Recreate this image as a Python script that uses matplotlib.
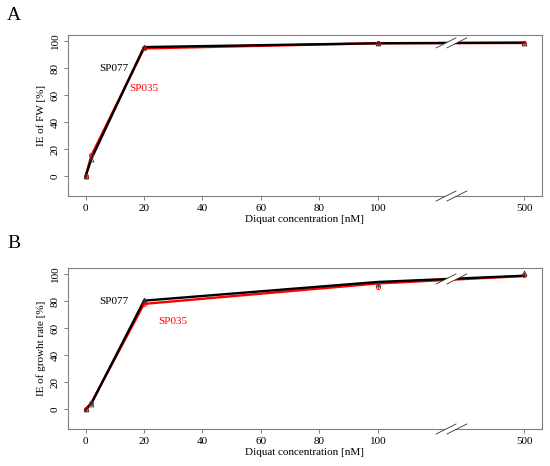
import numpy as np
import matplotlib.pyplot as plt

plt.rcParams['font.family'] = ['Liberation Serif', 'DejaVu Serif']

# concentrations; 500 nM is drawn at position 150 after an axis break
conc = [0, 2, 20, 100, 500]
xpos = [0, 2, 20, 100, 150]
xticks = [0, 20, 40, 60, 80, 100, 150]
xticklabels = ['0', '20', '40', '60', '80', '100', '500']

# panel A, inhibition effect on fresh weight
fw_sp077 = [0, 13, 95.5, 98.3, 98.8]
fw_sp035 = [0, 15.5, 94.5, 98.3, 98.5]
fw_sp077_err = [1.5, 2, 1, 0.8, 0.8]
fw_sp035_err = [1.5, 2, 1, 0.8, 0.8]

# panel B, inhibition effect on growth rate
gr_sp077 = [0, 4.4, 80.3, 94.1, 98.7]
gr_sp035 = [0, 5.0, 77.9, 93.0, 98.5]
gr_sp077_pts = [0, 4.4, 81, 92.3, 100.4]
gr_sp035_pts = [0, 5.0, 78, 90.6, 99.5]
gr_err = [1, 1, 1, 1.5, 0.8]

gray = '#7f7f7f'


def axis_break(ax, ylevel, x1=123.3, x2=127.0, dx=3.4, dy=3.7):
    # white gap and two slashes on the line and on the x axis
    for y, clip in [(ylevel, True), (ax.get_ylim()[0], False)]:
        px = [x1 - dx, x1 + dx, x2 + dx, x2 - dx]
        py = [y - dy, y + dy, y + dy, y - dy]
        ax.fill(px, py, color='white', zorder=5, clip_on=clip, lw=0)
        for xc in (x1, x2):
            ax.plot([xc - dx, xc + dx], [y - dy, y + dy], color='#333333',
                    lw=0.6, zorder=6, clip_on=False)


def draw_panel(ax, black, red, bpts, rpts, berr, rerr, ylabel, lab_b, lab_r, brk_y):
    ax.plot(xpos, red, color='red', lw=1.7, zorder=2)
    ax.plot(xpos, black, color='black', lw=1.7, zorder=3)
    ax.errorbar(xpos, rpts, yerr=rerr, fmt='o', ms=3, mfc='none', mec='red',
                ecolor='red', elinewidth=0.6, capsize=0, mew=0.6, zorder=4)
    ax.errorbar(xpos, bpts, yerr=berr, fmt='^', ms=3.5, mfc='none', mec='#333333',
                ecolor='#333333', elinewidth=0.6, capsize=0, mew=0.6, zorder=4)
    ax.set_xlim(-6, 156)
    ax.set_ylim(-14.4, 104.4)
    axis_break(ax, brk_y)
    ax.set_xticks(xticks)
    ax.set_xticklabels(xticklabels)
    ax.set_yticks([0, 20, 40, 60, 80, 100])
    ax.set_yticklabels(['0', '20', '40', '60', '80', '100'], rotation=90, va='center')
    ax.tick_params(labelsize=8, colors=gray, labelcolor='black', length=3, width=0.7, pad=3)
    for s in ax.spines.values():
        s.set_color(gray)
        s.set_linewidth(0.8)
    ax.set_xlabel('Diquat concentration [nM]', fontsize=8, labelpad=1)
    ax.set_ylabel(ylabel, fontsize=8, labelpad=3)
    ax.text(lab_b[0], lab_b[1], 'SP077', color='black', fontsize=8, ha='center', va='center')
    ax.text(lab_r[0], lab_r[1], 'SP035', color='red', fontsize=8, ha='center', va='center')


fig = plt.figure(figsize=(5.5, 4.66), dpi=100)
ax1 = fig.add_axes([0.1236, 0.5794, 0.8613, 0.3455])
ax2 = fig.add_axes([0.1236, 0.0794, 0.8613, 0.3455])

draw_panel(ax1, fw_sp077, fw_sp035, fw_sp077, fw_sp035, fw_sp077_err, fw_sp035_err,
           'IE of FW [%]', (9.8, 79.4), (20, 64.6), 98.6)
draw_panel(ax2, gr_sp077, gr_sp035, gr_sp077_pts, gr_sp035_pts, gr_err, gr_err,
           'IE of growht rate [%]', (9.8, 79.8), (29.7, 65), 96.3)

fig.text(14 / 550, 1 - 16 / 466, 'A', fontsize=14, ha='center', va='center')
fig.text(14 / 550, 1 - 243 / 466, 'B', fontsize=14, ha='center', va='center')

fig.savefig('out.png', dpi=100)
